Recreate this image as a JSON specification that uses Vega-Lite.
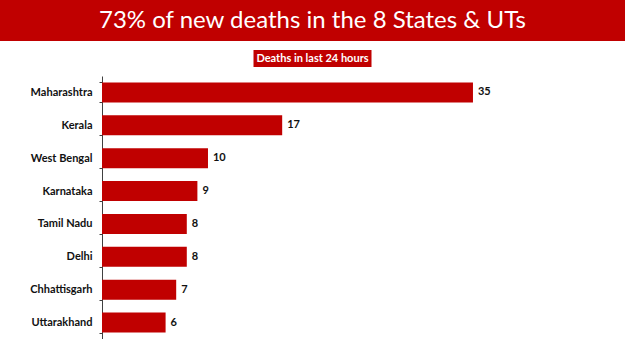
{
  "$schema": "https://vega.github.io/schema/vega-lite/v6.json",
  "padding": 0,
  "background": "white",
  "spacing": 9,
  "center": true,
  "bounds": "flush",
  "config": {"view": {"stroke": null}, "font": "Lato"},
  "vconcat": [
    {
      "width": 625,
      "height": 41,
      "view": {"fill": "#c00000", "stroke": null},
      "data": {"values": [{"t": "73% of new deaths in the 8 States & UTs"}]},
      "mark": {"type": "text", "color": "white", "font": "Lato", "fontSize": 24, "baseline": "middle"},
      "encoding": {"text": {"field": "t", "type": "nominal"}}
    },
    {
      "width": 118,
      "height": 17,
      "view": {"fill": "#c00000", "stroke": null},
      "data": {"values": [{"t": "Deaths in last 24 hours"}]},
      "mark": {"type": "text", "color": "white", "font": "Lato", "fontWeight": "bold", "fontSize": 11, "baseline": "middle"},
      "encoding": {"text": {"field": "t", "type": "nominal"}}
    },
    {
      "width": 421,
      "height": 263,
      "data": {"values": [
        {"state": "Maharashtra", "deaths": 35},
        {"state": "Kerala", "deaths": 17},
        {"state": "West Bengal", "deaths": 10},
        {"state": "Karnataka", "deaths": 9},
        {"state": "Tamil Nadu", "deaths": 8},
        {"state": "Delhi", "deaths": 8},
        {"state": "Chhattisgarh", "deaths": 7},
        {"state": "Uttarakhand", "deaths": 6}
      ]},
      "encoding": {
        "y": {
          "field": "state", "type": "nominal", "sort": null,
          "scale": {"paddingInner": 0.39, "paddingOuter": 0.195},
          "axis": {
            "title": null, "domainColor": "#404040", "domainWidth": 1,
            "tickColor": "#404040", "tickSize": 3, "tickBand": "extent",
            "labelFont": "Lato", "labelFontWeight": "bold", "labelFontSize": 11,
            "labelColor": "#111111", "labelPadding": 7
          }
        },
        "x": {"field": "deaths", "type": "quantitative", "scale": {"domain": [0, 39.72], "nice": false}, "axis": null}
      },
      "layer": [
        {"mark": {"type": "bar", "color": "#c00000"}},
        {
          "mark": {"type": "text", "align": "left", "baseline": "middle", "dx": 5, "font": "Lato", "fontWeight": "bold", "fontSize": 11, "color": "#111111"},
          "encoding": {"text": {"field": "deaths", "type": "quantitative"}}
        }
      ]
    }
  ]
}
